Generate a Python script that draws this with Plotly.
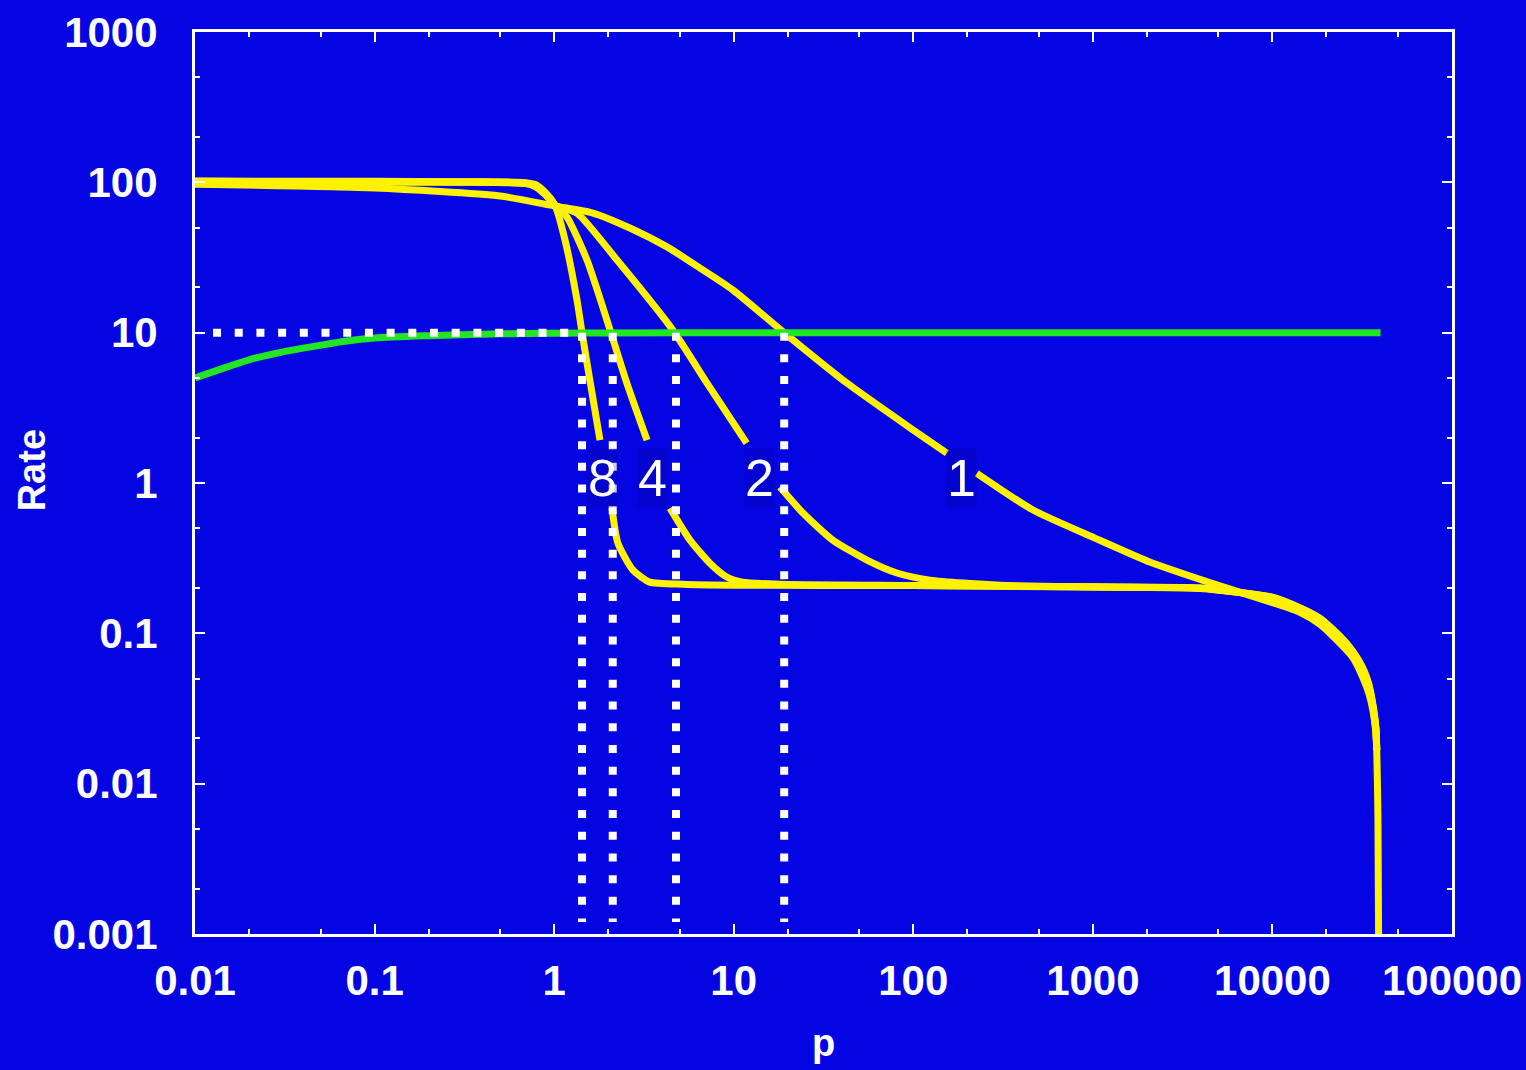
import math
import plotly.graph_objects as go

# ---------------- data ----------------
# green curve: rate limit
green_p = [0.01, 0.015, 0.02, 0.03, 0.05, 0.07, 0.1, 0.2, 0.3, 0.5, 1, 2, 10, 100, 1000, 10000, 40000]
green_rate = [5.0, 5.9, 6.6, 7.4, 8.25, 8.8, 9.2, 9.55, 9.7, 9.82, 9.9, 9.95, 10, 10, 10, 10, 10]

# yellow curves (None = gap under the curve label)
c1_p = [0.01, 0.1, 0.5, 1.01, 1.645, 2.64, 4.25, 6.49, 9.91, 19.1, 42.7, 100, 153.8, None,
        226, 464, 1026, 2075, 4655, 10000, 14220, 18370, 23740, 28050, 31850, 34420, 36210, 37670, 38100, 38700, 39000]
c1_rate = [97, 91.6, 81.1, 69.5, 62.5, 49.7, 37.2, 26.9, 19.2, 10.0, 4.62, 2.25, 1.58, None,
           1.16, 0.661, 0.43, 0.298, 0.214, 0.16, 0.138, 0.115, 0.086, 0.069, 0.051, 0.040, 0.031, 0.022, 0.0167, 0.006, 0.001]

c2_p = [0.01, 0.1, 0.3, 0.55, 0.69, 0.78, 0.89, 1.01, 1.34, 2.24, 4.58, 7.1, 11.8, None,
        18.1, 24.3, 35.6, 55.2, 81.1, 124, 303, 1000, 3945, 10000, 14220, 18370, 23740, 28050, 31850, 34420, 36210, 37670, 38100]
c2_rate = [101, 100.5, 100, 99.5, 98, 94, 83, 70.6, 62.5, 30.4, 10.4, 4.62, 1.84, None,
           0.94, 0.631, 0.417, 0.307, 0.252, 0.226, 0.209, 0.204, 0.2, 0.172, 0.146, 0.124, 0.094, 0.074, 0.057, 0.044, 0.033, 0.023, 0.0167]

c4_p = [0.01, 0.1, 0.3, 0.55, 0.69, 0.78, 0.89, 1.01, 1.178, 1.524, 2.05, 2.54, 3.29, None,
        4.42, 5.71, 7.37, 9.16, 11.2, 18.1, 100, 1000, 3945, 10000, 14220, 18370, 23740, 28050, 31850, 34420, 36210, 37670, 38100]
c4_rate = [101.5, 101, 100.5, 100, 99, 95.5, 84.5, 70.6, 58.7, 30.4, 10.4, 4.62, 1.93, None,
           0.681, 0.417, 0.293, 0.237, 0.219, 0.212, 0.208, 0.203, 0.2, 0.173, 0.147, 0.125, 0.095, 0.075, 0.058, 0.045, 0.033, 0.023, 0.0167]

c8_p = [0.01, 0.1, 0.3, 0.55, 0.69, 0.78, 0.89, 1.01, 1.15, 1.34, 1.43, 1.58, 1.80, None,
        2.10, 2.265, 2.75, 3.41, 5.21, 10, 100, 1000, 3945, 10000, 14220, 18370, 23740, 28050, 31850, 34420, 36210, 37670, 38100]
c8_rate = [102, 101.5, 101, 100.5, 99.5, 97, 86, 70.6, 41.3, 16.5, 10.0, 4.84, 1.93, None,
           0.681, 0.398, 0.263, 0.219, 0.212, 0.209, 0.208, 0.203, 0.199, 0.174, 0.148, 0.126, 0.096, 0.076, 0.059, 0.046, 0.034, 0.024, 0.0167]

curve_labels = ["8", "4", "2", "1"]
label_p = [1.87, 3.55, 14.0, 186.6]
label_rate = [1.08, 1.08, 1.08, 1.08]

# dotted guide lines: crossings with rate = 10
cross_p = [1.43, 2.12, 4.77, 19.1]
guide_rate = 10
guide_bottom = 0.0012
guide_left = 0.0126

x_ticks = [0.01, 0.1, 1, 10, 100, 1000, 10000, 100000]
x_ticktext = ["0.01", "0.1", "1", "10", "100", "1000", "10000", "100000"]
y_ticks = [0.001, 0.01, 0.1, 1, 10, 100, 1000]
y_ticktext = ["0.001", "0.01", "0.1", "1", "10", "100", "1000"]

# ---------------- styling ----------------
BG = "#0505E4"
YELLOW = "#FFF200"
GREEN = "#22E622"
WHITE = "#FFFFFF"
FONT = "Liberation Sans, Arial, sans-serif"

fig = go.Figure()

for px_, py_ in [(c1_p, c1_rate), (c2_p, c2_rate), (c4_p, c4_rate), (c8_p, c8_rate)]:
    fig.add_trace(go.Scatter(x=px_, y=py_, mode="lines", connectgaps=False,
                             line=dict(color=YELLOW, width=7, shape="spline", smoothing=0.6),
                             hoverinfo="skip", showlegend=False))

fig.add_trace(go.Scatter(x=green_p, y=green_rate, mode="lines",
                         line=dict(color=GREEN, width=7, shape="spline", smoothing=0.8),
                         hoverinfo="skip", showlegend=False))

# horizontal dotted guide
fig.add_trace(go.Scatter(x=[guide_left, cross_p[0]], y=[guide_rate, guide_rate], mode="lines",
                         line=dict(color=WHITE, width=8, dash="8px,13.7px"),
                         hoverinfo="skip", showlegend=False))
# vertical dotted guides
for cp in cross_p:
    fig.add_trace(go.Scatter(x=[cp, cp], y=[guide_rate, guide_bottom], mode="lines",
                             line=dict(color=WHITE, width=8, dash="8px,13.7px"),
                             hoverinfo="skip", showlegend=False))

for t, lp, lr in zip(curve_labels, label_p, label_rate):
    fig.add_annotation(x=math.log10(lp), y=math.log10(lr), text=t, showarrow=False,
                       font=dict(family=FONT, size=52, color=WHITE),
                       bgcolor="rgba(0,0,120,0.2)", borderpad=0)

# y-axis title
fig.add_annotation(x=-0.1297, y=0.514, xref="paper", yref="paper", text="Rate", textangle=-90,
                   showarrow=False, xanchor="center", yanchor="middle",
                   font=dict(family=FONT, size=38, color=WHITE, weight="bold"))

axis_common = dict(
    type="log", showline=True, linecolor=WHITE, linewidth=3, mirror="allticks",
    ticks="inside", ticklen=10, tickwidth=2, tickcolor=WHITE,
    showgrid=False, zeroline=False,
    tickfont=dict(family=FONT, size=42, color=WHITE, weight="bold"),
    minor=dict(ticks="inside", ticklen=5, tickwidth=2, tickcolor=WHITE, dtick="D2", showgrid=False),
)

fig.update_xaxes(**axis_common, range=[-2, 5], tickmode="array", tickvals=x_ticks, ticktext=x_ticktext,
                 ticklabelstandoff=8,
                 title=dict(text="p", font=dict(family=FONT, size=38, color=WHITE, weight="bold"), standoff=26))
fig.update_yaxes(**axis_common, range=[-3, 3], tickmode="array", tickvals=y_ticks, ticktext=y_ticktext,
                 ticklabelstandoff=26)

fig.update_layout(
    width=1526, height=1070,
    margin=dict(l=195, r=74, t=32, b=136, autoexpand=False),
    paper_bgcolor=BG, plot_bgcolor=BG,
    showlegend=False,
)

fig.write_html("out.html", config={"displayModeBar": False},
               post_script="document.body.style.margin='0';document.body.style.background='%s';"
                           "document.body.style.overflow='hidden';" % BG)
